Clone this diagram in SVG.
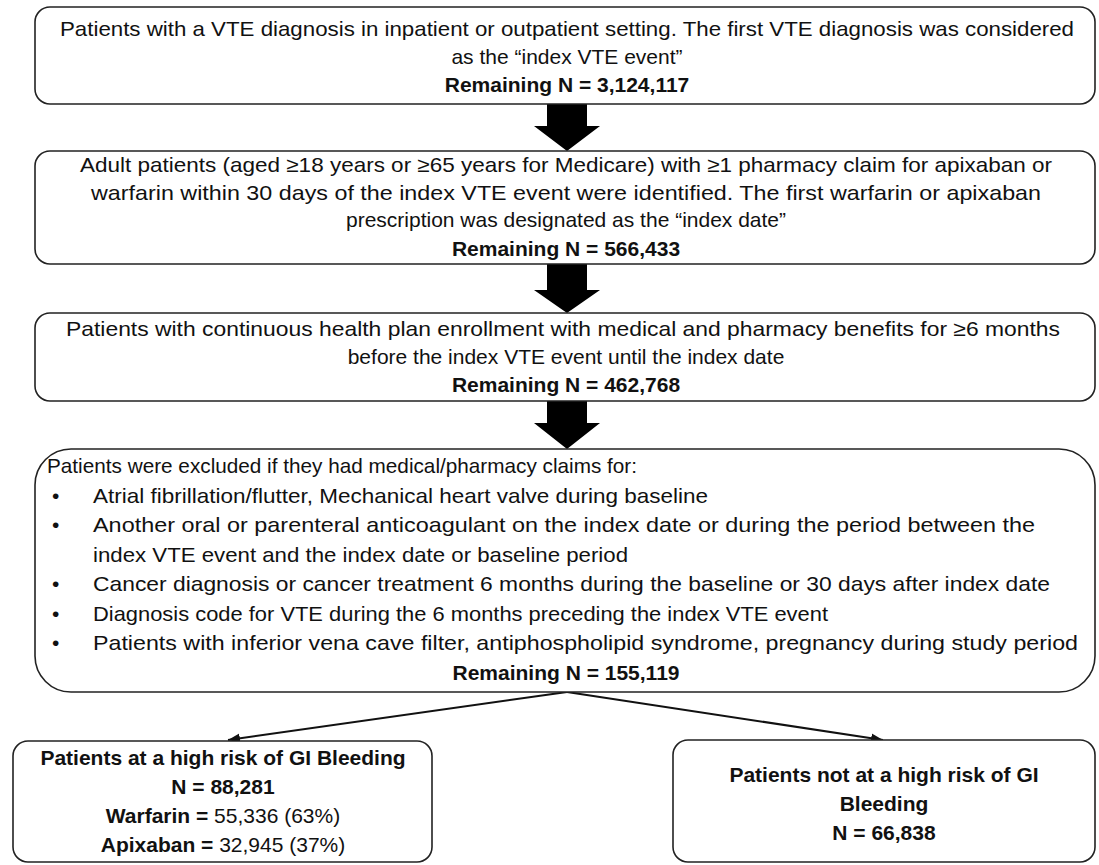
<svg xmlns="http://www.w3.org/2000/svg" width="1099" height="865" viewBox="0 0 1099 865">
<defs>
<style>
.box{fill:#fff;stroke:#222;stroke-width:1.6}
text{font-family:"Liberation Sans",Arial,sans-serif;font-size:21px;fill:#111}
.c{text-anchor:middle}
.b{font-weight:bold}
.blk{fill:#000;stroke:none}
.con{stroke:#111;stroke-width:2;fill:none}
</style>
<marker id="ah" viewBox="0 0 10 10" refX="10" refY="5" markerWidth="6" markerHeight="6" orient="auto" markerUnits="strokeWidth">
<path d="M0,1 L10,5 L0,9 Z" fill="#111"/>
</marker>
</defs>
<rect width="1099" height="865" fill="#fff"/>

<g id="connectors">
<polygon class="blk" points="547,104 587,104 587,126 600,126 567,151 534,126 547,126"/>
<polygon class="blk" points="547,264 587,264 587,290 600,290 567,313 534,290 547,290"/>
<polygon class="blk" points="547,401 587,401 587,423 600,423 567,449 534,423 547,423"/>
<line class="con" x1="567" y1="692" x2="228" y2="740" marker-end="url(#ah)"/>
<line class="con" x1="567" y1="692" x2="883" y2="740" marker-end="url(#ah)"/>
</g>

<g id="node1">
<rect class="box" x="35" y="7" width="1060" height="97" rx="15"/>
<text class="c" x="567" y="36" textLength="1014" lengthAdjust="spacingAndGlyphs">Patients with a VTE diagnosis in inpatient or outpatient setting. The first VTE diagnosis was considered</text>
<text class="c" x="567" y="64">as the “index VTE event”</text>
<text class="c b" x="567" y="92">Remaining N = 3,124,117</text>
</g>

<g id="node2">
<rect class="box" x="35" y="151" width="1060" height="113" rx="15"/>
<text class="c" x="566" y="172" textLength="972" lengthAdjust="spacingAndGlyphs">Adult patients (aged ≥18 years or ≥65 years for Medicare) with ≥1 pharmacy claim for apixaban or</text>
<text class="c" x="566" y="200" textLength="950" lengthAdjust="spacingAndGlyphs">warfarin within 30 days of the index VTE event were identified. The first warfarin or apixaban</text>
<text class="c" x="566" y="227">prescription was designated as the “index date”</text>
<text class="c b" x="566" y="256">Remaining N = 566,433</text>
</g>

<g id="node3">
<rect class="box" x="35" y="313" width="1060" height="88" rx="15"/>
<text class="c" x="563" y="336" textLength="994" lengthAdjust="spacingAndGlyphs">Patients with continuous health plan enrollment with medical and pharmacy benefits for ≥6 months</text>
<text class="c" x="566" y="364">before the index VTE event until the index date</text>
<text class="c b" x="566" y="392">Remaining N = 462,768</text>
</g>

<g id="node4">
<rect class="box" x="35" y="449" width="1060" height="243" rx="36"/>
<text x="47" y="473" textLength="590" lengthAdjust="spacingAndGlyphs">Patients were excluded if they had medical/pharmacy claims for:</text>
<text x="52" y="502.5">•</text>
<text x="93" y="502.5" textLength="615" lengthAdjust="spacingAndGlyphs">Atrial fibrillation/flutter, Mechanical heart valve during baseline</text>
<text x="52" y="532">•</text>
<text x="93" y="532" textLength="942" lengthAdjust="spacingAndGlyphs">Another oral or parenteral anticoagulant on the index date or during the period between the</text>
<text x="93" y="561.5" textLength="535" lengthAdjust="spacingAndGlyphs">index VTE event and the index date or baseline period</text>
<text x="52" y="591">•</text>
<text x="93" y="591" textLength="957" lengthAdjust="spacingAndGlyphs">Cancer diagnosis or cancer treatment 6 months during the baseline or 30 days after index date</text>
<text x="52" y="620.5">•</text>
<text x="93" y="620.5" textLength="735" lengthAdjust="spacingAndGlyphs">Diagnosis code for VTE during the 6 months preceding the index VTE event</text>
<text x="52" y="650">•</text>
<text x="93" y="650" textLength="985" lengthAdjust="spacingAndGlyphs">Patients with inferior vena cave filter, antiphospholipid syndrome, pregnancy during study period</text>
<text class="c b" x="566" y="680">Remaining N = 155,119</text>
</g>

<g id="node5">
<rect class="box" x="13" y="741" width="419" height="121" rx="15"/>
<text class="c b" x="223" y="765">Patients at a high risk of GI Bleeding</text>
<text class="c b" x="223" y="794">N = 88,281</text>
<text class="c" x="223" y="823"><tspan class="b">Warfarin =</tspan> 55,336 (63%)</text>
<text class="c" x="223" y="852"><tspan class="b">Apixaban =</tspan> 32,945 (37%)</text>
</g>

<g id="node6">
<rect class="box" x="673" y="740" width="422" height="122" rx="15"/>
<text class="c b" x="884" y="782">Patients not at a high risk of GI</text>
<text class="c b" x="884" y="811">Bleeding</text>
<text class="c b" x="884" y="840">N = 66,838</text>
</g>
</svg>
